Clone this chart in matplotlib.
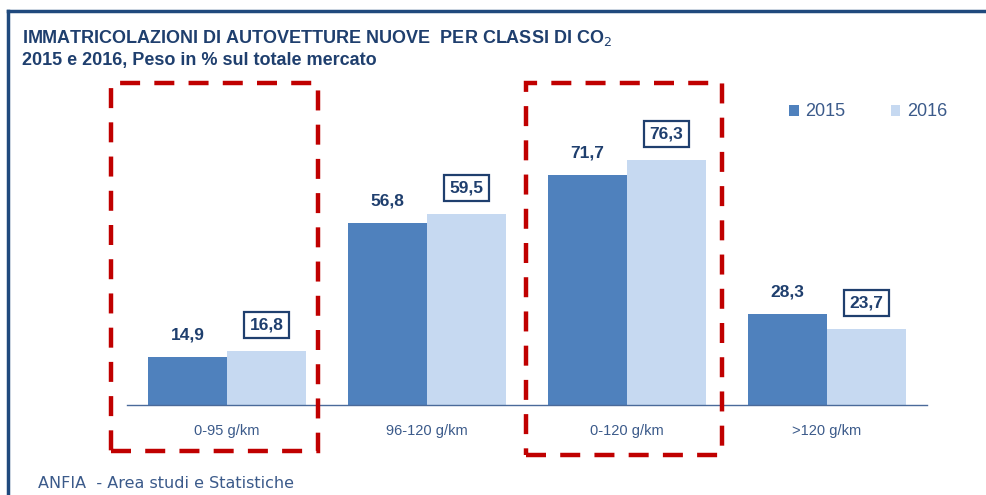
import matplotlib.pyplot as plt
import matplotlib.patches as mpatches
from matplotlib.lines import Line2D
import numpy as np

categorie = ["0-95 g/km", "96-120 g/km", "0-120 g/km", ">120 g/km"]
val_2015 = [14.9, 56.8, 71.7, 28.3]
val_2016 = [16.8, 59.5, 76.3, 23.7]
anni = ["2015", "2016"]

blu = "#4F81BD"
azzurro = "#C6D9F1"
testo = "#1F3F6E"
grigioblu = "#3B5A8A"
rosso = "#C00000"

arial = ["Liberation Sans", "DejaVu Sans"]

fig = plt.figure(figsize=(9.87, 4.95), dpi=100)
ax = fig.add_axes([127 / 987, 90 / 495, 800 / 987, 321 / 495])

x = np.arange(len(categorie))
w = 0.395
ax.bar(x - w / 2, val_2015, w, color=blu, label=anni[0])
ax.bar(x + w / 2, val_2016, w, color=azzurro, label=anni[1])

for xi, v in zip(x - w / 2, val_2015):
    ax.annotate(f"{v:.1f}".replace(".", ","), (xi, v), xytext=(0, 22),
                textcoords="offset pixels", ha="center", va="center",
                fontsize=12.5, fontweight="bold", color=testo, family=arial)
for xi, v in zip(x + w / 2, val_2016):
    ax.annotate(f"{v:.1f}".replace(".", ","), (xi, v), xytext=(0, 26),
                textcoords="offset pixels", ha="center", va="center",
                fontsize=12.5, fontweight="bold", color=testo, family=arial,
                bbox=dict(boxstyle="square,pad=0.32", fc="white", ec=testo, lw=1.6))

ax.set_xlim(-0.5, 3.5)
ax.set_ylim(0, 100)
ax.set_xticks(x)
ax.set_xticklabels(categorie, fontsize=10.5, color=grigioblu, family=arial)
ax.tick_params(axis="x", length=0, pad=14)
ax.set_yticks([])
for s in ["top", "right", "left"]:
    ax.spines[s].set_visible(False)
ax.spines["bottom"].set_color("#4A6A9A")
ax.spines["bottom"].set_linewidth(1)

ax.legend(loc="center left", bbox_to_anchor=(789 / 987, 1 - 112 / 495),
          bbox_transform=fig.transFigure, ncol=2, frameon=False,
          borderpad=0, borderaxespad=0,
          handlelength=0.55, handleheight=0.55, handletextpad=0.35,
          columnspacing=2.5, labelcolor=grigioblu,
          prop={"family": arial, "size": 13})

# titoli
fig.text(22 / 987, 1 - 38 / 495, "IMMATRICOLAZIONI DI AUTOVETTURE NUOVE  PER CLASSI DI CO$_2$",
         fontsize=13, fontweight="bold", color=testo, family=arial, va="center")
fig.text(22 / 987, 1 - 61 / 495, "2015 e 2016, Peso in % sul totale mercato",
         fontsize=13, fontweight="bold", color=testo, family=arial, va="center")
fig.text(38 / 987, 1 - 483 / 495, "ANFIA  - Area studi e Statistiche",
         fontsize=11.5, color=grigioblu, va="center")

# cornice
fig.add_artist(Line2D([8 / 987, 8 / 987], [0, 1 - 11 / 495], transform=fig.transFigure,
                      color="#1F497D", lw=2.5))
fig.add_artist(Line2D([8 / 987, 1], [1 - 11 / 495, 1 - 11 / 495], transform=fig.transFigure,
                      color="#1F497D", lw=2.5))

# riquadri tratteggiati
for (x0, y0, x1, y1) in [(111, 83, 318, 451), (526, 83, 722, 455)]:
    r = mpatches.Rectangle((x0 / 987, 1 - y1 / 495), (x1 - x0) / 987, (y1 - y0) / 495,
                           transform=fig.transFigure, fill=False, ec=rosso, lw=3.2,
                           ls=(0, (4.5, 3.2)))
    fig.add_artist(r)

fig.savefig("out.png", dpi=100)
